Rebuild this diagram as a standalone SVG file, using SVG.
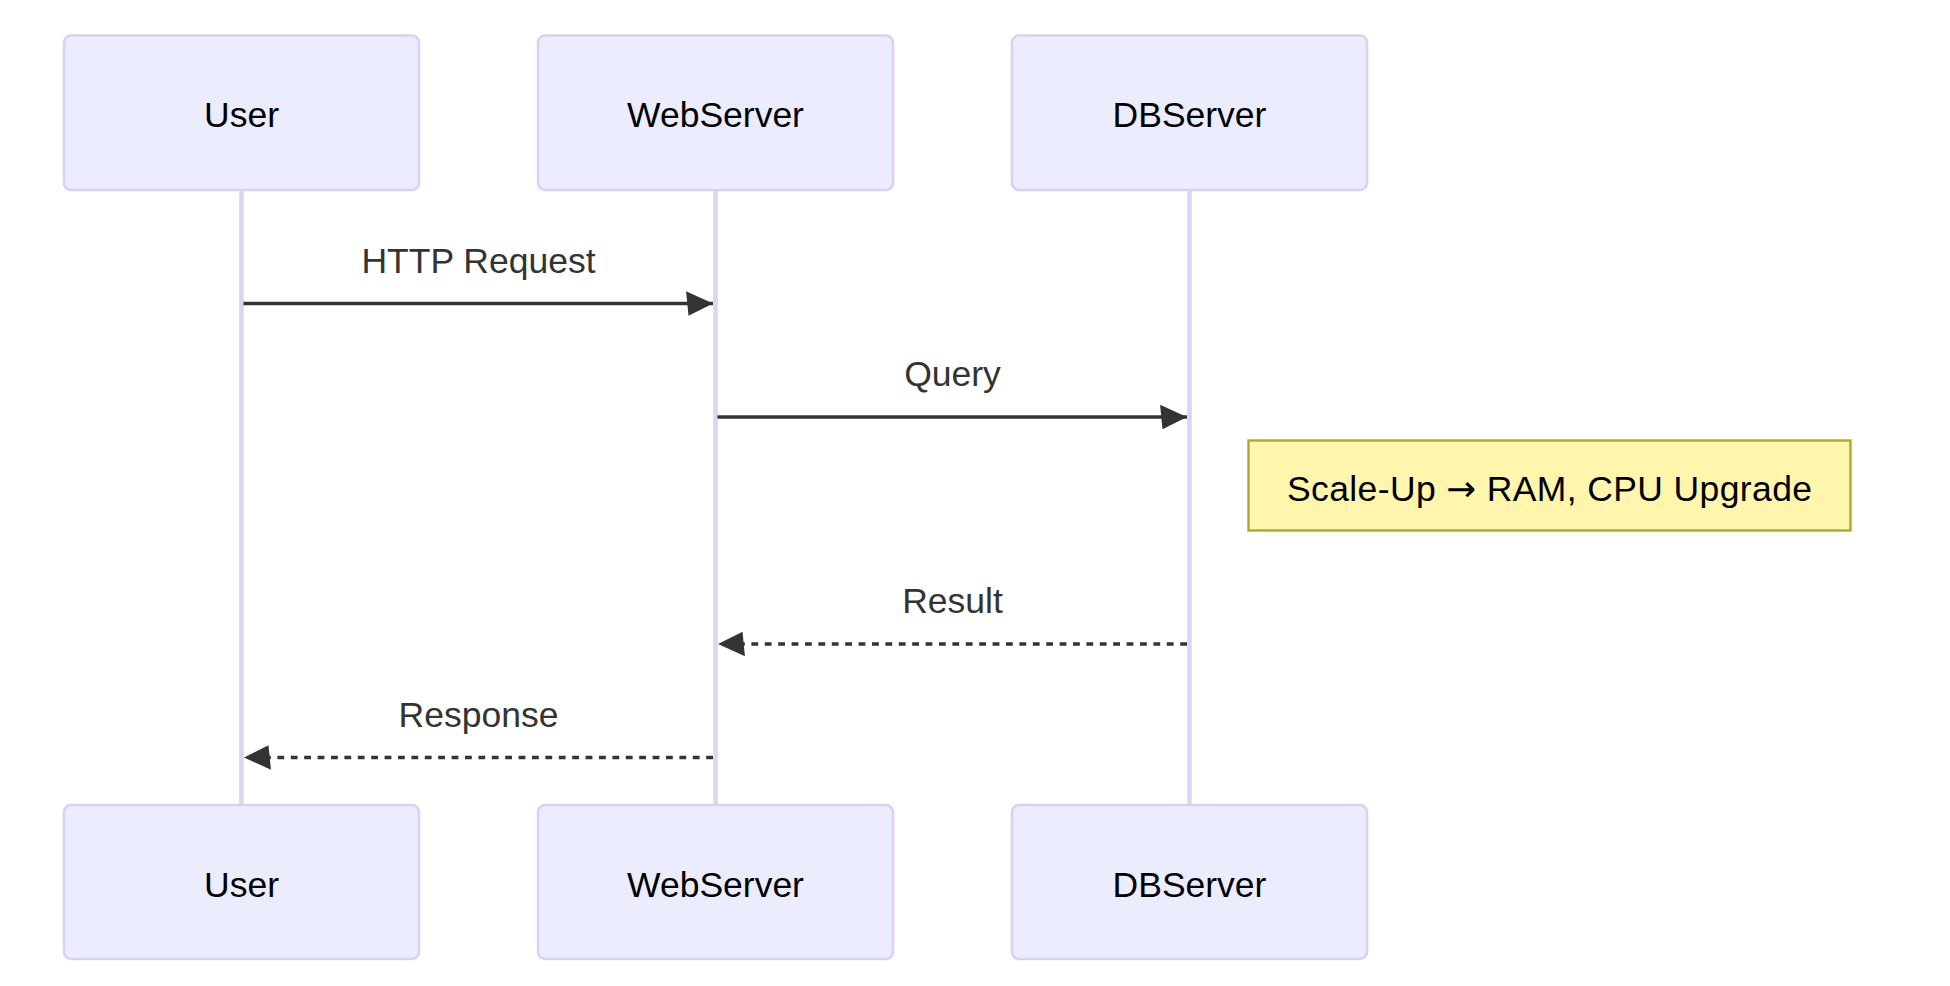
<svg xmlns="http://www.w3.org/2000/svg" width="1950" height="986" viewBox="0 0 1950 986">
  <style>
    .actor { fill: #ececff; stroke: #d9d0f3; stroke-width: 2.6; }
    .actor-label { font-family: "Liberation Sans", Arial, sans-serif; font-size: 35.5px; fill: #000; text-anchor: middle; }
    .lifeline { stroke: #dcd4f3; stroke-width: 4.6; fill: none; }
    .msg { stroke: #333; stroke-width: 3.4; fill: none; }
    .msg-dashed { stroke-dasharray: 6.8 6.6; }
    .msg-label { font-family: "Liberation Sans", Arial, sans-serif; font-size: 35.5px; fill: #333; text-anchor: middle; }
    .note { fill: #fff5ad; stroke: #aaaa33; stroke-width: 2.4; }
    .note-label { font-family: "Liberation Sans", Arial, sans-serif; font-size: 35.5px; fill: #000; text-anchor: middle; }
    .glyph-arrow { font-family: "DejaVu Sans", sans-serif; }
  </style>
  <defs>
    <marker id="arrowhead" viewBox="-1 0 11 10" refX="10" refY="5" markerUnits="userSpaceOnUse" markerWidth="27" markerHeight="24.5" orient="auto">
      <path d="M -1 0 L 10 5 L 0 10 z" fill="#333"/>
    </marker>
  </defs>

  <rect width="1950" height="986" fill="#fff"/>

  <!-- lifelines -->
  <g id="lifelines">
    <line class="lifeline" x1="241.5" y1="190" x2="241.5" y2="805"/>
    <line class="lifeline" x1="715.5" y1="190" x2="715.5" y2="805"/>
    <line class="lifeline" x1="1189.5" y1="190" x2="1189.5" y2="805"/>
  </g>

  <!-- participants, top row -->
  <g id="user-top">
    <rect class="actor" x="64" y="35.5" width="355" height="154.5" rx="7" ry="7"/>
    <text class="actor-label" x="241.5" y="127">User</text>
  </g>
  <g id="webserver-top">
    <rect class="actor" x="538" y="35.5" width="355" height="154.5" rx="7" ry="7"/>
    <text class="actor-label" x="715.5" y="127">WebServer</text>
  </g>
  <g id="dbserver-top">
    <rect class="actor" x="1012" y="35.5" width="355" height="154.5" rx="7" ry="7"/>
    <text class="actor-label" x="1189.5" y="127">DBServer</text>
  </g>

  <!-- participants, bottom row -->
  <g id="user-bottom">
    <rect class="actor" x="64" y="805" width="355" height="154" rx="7" ry="7"/>
    <text class="actor-label" x="241.5" y="897">User</text>
  </g>
  <g id="webserver-bottom">
    <rect class="actor" x="538" y="805" width="355" height="154" rx="7" ry="7"/>
    <text class="actor-label" x="715.5" y="897">WebServer</text>
  </g>
  <g id="dbserver-bottom">
    <rect class="actor" x="1012" y="805" width="355" height="154" rx="7" ry="7"/>
    <text class="actor-label" x="1189.5" y="897">DBServer</text>
  </g>

  <!-- note over the database lifeline -->
  <g id="note-scaleup">
    <rect class="note" x="1248.5" y="440.5" width="602" height="90"/>
    <text class="note-label" x="1549.5" y="500.5" textLength="525">Scale-Up <tspan class="glyph-arrow">→</tspan> RAM, CPU Upgrade</text>
  </g>

  <!-- messages -->
  <g id="connectors">
    <line class="msg" x1="243.5" y1="303.5" x2="713" y2="303.5" marker-end="url(#arrowhead)"/>
    <text class="msg-label" x="478.5" y="273">HTTP Request</text>

    <line class="msg" x1="717.5" y1="417" x2="1187" y2="417" marker-end="url(#arrowhead)"/>
    <text class="msg-label" x="952.5" y="386">Query</text>

    <line class="msg msg-dashed" x1="1187" y1="644" x2="718" y2="644" marker-end="url(#arrowhead)"/>
    <text class="msg-label" x="952.5" y="613">Result</text>

    <line class="msg msg-dashed" x1="713" y1="757.5" x2="244" y2="757.5" marker-end="url(#arrowhead)"/>
    <text class="msg-label" x="478.5" y="726.5">Response</text>
  </g>
</svg>
